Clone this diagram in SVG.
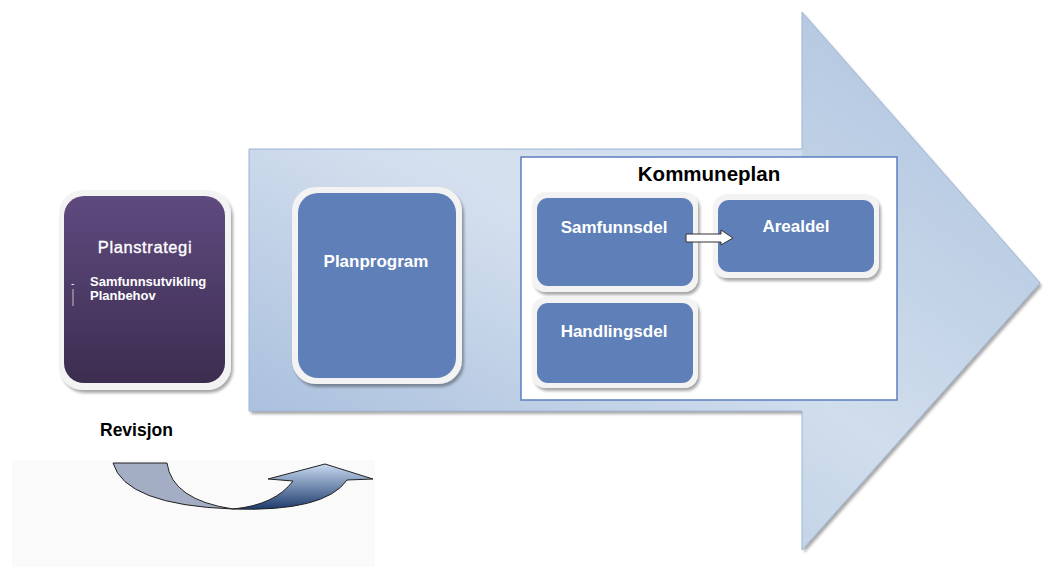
<svg xmlns="http://www.w3.org/2000/svg" width="1043" height="567" viewBox="0 0 1043 567">
<style>
.t{font-family:"Liberation Sans",Arial,sans-serif;font-weight:bold;fill:#ffffff}
.n{font-family:"Liberation Sans",Arial,sans-serif;font-weight:normal;fill:#ffffff}
.b{font-family:"Liberation Sans",Arial,sans-serif;font-weight:bold;fill:#000000}
.frame{fill:#f3f3f3;filter:url(#sh)}
.blue{fill:#5f7fb8}
</style>
<defs>
<linearGradient id="bigG" x1="0" y1="1" x2="1" y2="0">
<stop offset="0" stop-color="#a8bfdd"/>
<stop offset="0.5" stop-color="#d0ddec"/>
<stop offset="1" stop-color="#abc1de"/>
</linearGradient>
<linearGradient id="shaftG" x1="0" y1="1" x2="1" y2="0">
<stop offset="0" stop-color="#a5bcdc"/>
<stop offset="0.6" stop-color="#d6e1ef"/>
<stop offset="1" stop-color="#dce6f2"/>
</linearGradient>
<linearGradient id="purp" x1="0" y1="0" x2="0" y2="1">
<stop offset="0" stop-color="#5f4a7f"/>
<stop offset="1" stop-color="#3c2d50"/>
</linearGradient>
<linearGradient id="curveG" x1="0" y1="1" x2="0" y2="0">
<stop offset="0" stop-color="#1d3b6d"/>
<stop offset="1" stop-color="#c9dbf2"/>
</linearGradient>
<filter id="sh" x="-10%" y="-10%" width="130%" height="130%">
<feGaussianBlur in="SourceAlpha" stdDeviation="1.5"/>
<feOffset dx="2" dy="3" result="o"/>
<feComponentTransfer><feFuncA type="linear" slope="0.35"/></feComponentTransfer>
<feMerge><feMergeNode/><feMergeNode in="SourceGraphic"/></feMerge>
</filter>
</defs>

<g id="bigArrow">
<path d="M249,149 L802,149 L802,12 L1040,283 L802,550 L802,411 L249,411 Z" fill="url(#bigG)" filter="url(#sh)"/>
<path d="M249,149 L802,149 L802,12 L1040,283 L802,550 L802,411 L249,411 Z" fill="none" stroke="#9fb5d6" stroke-width="1"/>
<rect x="250" y="150" width="552" height="260" fill="url(#shaftG)" opacity="0.6"/>
</g>

<g id="revisjonBg">
<rect x="12" y="460" width="363" height="107" fill="#fafafa"/>
</g>

<g id="planstrategi">
<rect class="frame" x="59" y="190" width="172" height="200" rx="24"/>
<rect x="64" y="196" width="161" height="187" rx="20" fill="url(#purp)"/>
<text class="n" x="145" y="253" font-size="16.5" text-anchor="middle" letter-spacing="0.6" stroke="#ffffff" stroke-width="0.35">Planstrategi</text>
<text class="t" x="90" y="286" font-size="13">Samfunnsutvikling</text>
<text class="t" x="90" y="300" font-size="13">Planbehov</text>
<text class="n" x="71" y="287" font-size="10">-</text>
<line x1="73" y1="289" x2="73" y2="306" stroke="#c9c2b0" stroke-width="1"/>
</g>

<g id="planprogram">
<rect class="frame" x="292" y="187" width="170" height="197" rx="24"/>
<rect x="298" y="193" width="158" height="185" rx="20" class="blue"/>
<text class="t" x="376" y="267" font-size="17" text-anchor="middle">Planprogram</text>
</g>

<g id="kommuneplan">
<rect x="521" y="157" width="376" height="243" fill="#ffffff" stroke="#5b7fbd" stroke-width="1.5"/>
<text class="b" x="709" y="181" font-size="20.5" text-anchor="middle">Kommuneplan</text>
</g>

<g id="samfunnsdel">
<rect class="frame" x="532" y="192" width="166" height="100" rx="14"/>
<rect x="537" y="198" width="156" height="88" rx="11" class="blue"/>
<text class="t" x="614" y="233" font-size="17" text-anchor="middle">Samfunnsdel</text>
</g>

<g id="arealdel">
<rect class="frame" x="713" y="194" width="166" height="84" rx="14"/>
<rect x="718" y="200" width="156" height="72" rx="11" class="blue"/>
<text class="t" x="796" y="232" font-size="17" text-anchor="middle">Arealdel</text>
</g>

<g id="handlingsdel">
<rect class="frame" x="532" y="297" width="166" height="91" rx="14"/>
<rect x="537" y="303" width="156" height="80" rx="11" class="blue"/>
<text class="t" x="614" y="337" font-size="17" text-anchor="middle">Handlingsdel</text>
</g>

<g id="revisjon">
<text class="b" x="100" y="436" font-size="17.5">Revisjon</text>
</g>

<g id="connectors">
<path d="M686,234 L721,234 L721,230 L733,238 L721,245 L721,242 L686,242 Z" fill="#ffffff" stroke="#333333" stroke-width="1"/>
<path d="M113,463 L167,463 Q172,500 233,509 Q125,505 113,463 Z" fill="#a3aec4" stroke="#222222" stroke-width="1"/>
<path d="M233,509 Q325,512 347,480 L373,479 L325,464 L268,479 L293,481 Q275,505 233,509 Z" fill="url(#curveG)" stroke="#222222" stroke-width="1"/>
</g>
</svg>
